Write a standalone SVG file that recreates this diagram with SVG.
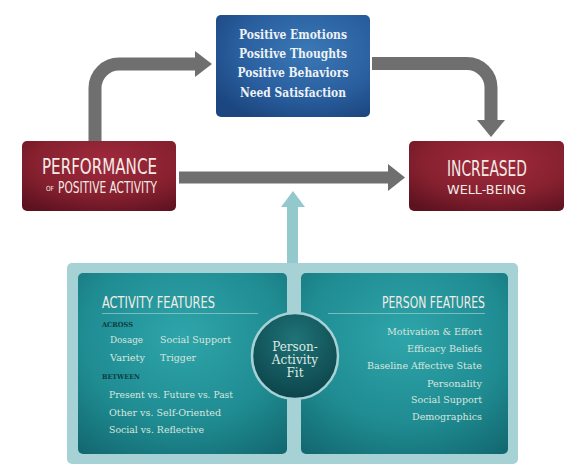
<svg xmlns="http://www.w3.org/2000/svg" width="588" height="476" viewBox="0 0 588 476">
<defs>
<radialGradient id="gBlue" cx="0.6" cy="0.35" r="0.75">
<stop offset="0" stop-color="#3a78b6"/><stop offset="0.6" stop-color="#2a5f9f"/><stop offset="1" stop-color="#1b467f"/>
</radialGradient>
<radialGradient id="gRed" cx="0.55" cy="0.3" r="0.8">
<stop offset="0" stop-color="#a02a3d"/><stop offset="0.6" stop-color="#86202f"/><stop offset="1" stop-color="#5e1220"/>
</radialGradient>
<radialGradient id="gTeal" cx="0.5" cy="0.35" r="0.8">
<stop offset="0" stop-color="#2ea5aa"/><stop offset="0.6" stop-color="#1f8c92"/><stop offset="1" stop-color="#136870"/>
</radialGradient>
<radialGradient id="gCircle" cx="0.5" cy="0.3" r="0.7">
<stop offset="0" stop-color="#1f7377"/><stop offset="1" stop-color="#0c454b"/>
</radialGradient>
<style>
.cond{font-family:"Liberation Sans Narrow","DejaVu Sans Condensed","Liberation Sans",sans-serif;fill:#f3ece6;}
.ser{font-family:"DejaVu Serif","Liberation Serif",serif;}
.blue{font-family:"DejaVu Serif","Liberation Serif",serif;font-weight:bold;font-size:12px;fill:#eef2f6;text-anchor:middle;}
.body{font-family:"DejaVu Serif","Liberation Serif",serif;font-size:9.5px;fill:#d9e6df;}
.lbl{font-family:"DejaVu Serif","Liberation Serif",serif;font-size:7px;font-weight:bold;fill:#0b3c40;}
.gray{fill:none;stroke:#6f6f6f;stroke-width:13;}
.grayh{fill:#6f6f6f;}
</style>
</defs>
<rect width="588" height="476" fill="#ffffff"/>

<g id="connectors">
<path class="gray" d="M95 141 V88 A24 24 0 0 1 119 64 H196"/>
<polygon class="grayh" points="195,51 212,64 195,77"/>
<path class="gray" d="M372 63.5 H467 A24 24 0 0 1 491 87.5 V121"/>
<polygon class="grayh" points="477,120 505,120 491,137"/>
<rect x="179" y="171.5" width="210" height="12" fill="#6f6f6f"/>
<polygon class="grayh" points="388,164 405,177.5 388,191"/>
<rect x="287" y="205" width="11" height="60" fill="#93c8cd"/>
<polygon points="281,207 305,207 293,191" fill="#93c8cd"/>
</g>

<g id="node-mediators">
<rect x="216" y="15" width="154" height="102" rx="5" fill="url(#gBlue)"/>
<text class="blue" x="293" y="39" textLength="108" lengthAdjust="spacingAndGlyphs">Positive Emotions</text>
<text class="blue" x="293" y="58" textLength="108" lengthAdjust="spacingAndGlyphs">Positive Thoughts</text>
<text class="blue" x="293" y="77" textLength="111" lengthAdjust="spacingAndGlyphs">Positive Behaviors</text>
<text class="blue" x="293" y="97" textLength="106" lengthAdjust="spacingAndGlyphs">Need Satisfaction</text>
</g>

<g id="node-performance">
<rect x="22" y="141" width="154" height="70" rx="5" fill="url(#gRed)"/>
<text class="cond" x="42" y="174" font-size="22" textLength="115" lengthAdjust="spacingAndGlyphs">PERFORMANCE</text>
<text class="cond" x="46" y="191" font-size="7" textLength="8" lengthAdjust="spacingAndGlyphs">OF</text>
<text class="cond" x="58" y="193" font-size="15" textLength="99" lengthAdjust="spacingAndGlyphs">POSITIVE ACTIVITY</text>
</g>

<g id="node-wellbeing">
<rect x="409" y="141" width="155" height="70" rx="5" fill="url(#gRed)"/>
<text class="cond" x="447" y="176" font-size="22" textLength="80" lengthAdjust="spacingAndGlyphs">INCREASED</text>
<text class="cond" x="447" y="194" font-size="13" textLength="79" lengthAdjust="spacingAndGlyphs">WELL-BEING</text>
</g>

<g id="node-features">
<rect x="67" y="263" width="451" height="201" rx="5" fill="#a6d2d5"/>
<g id="node-activity-features">
<rect x="78" y="273" width="209" height="181" rx="5" fill="url(#gTeal)"/>
<text class="cond" x="102" y="308" font-size="15" textLength="113" lengthAdjust="spacingAndGlyphs">ACTIVITY FEATURES</text>
<line x1="102" y1="313.5" x2="258" y2="313.5" stroke="#8fc6c8" stroke-width="1" opacity="0.8"/>
<text class="lbl" x="102" y="327" textLength="31" lengthAdjust="spacingAndGlyphs">ACROSS</text>
<text class="body" x="110" y="343" textLength="33" lengthAdjust="spacingAndGlyphs">Dosage</text>
<text class="body" x="160" y="343" textLength="71" lengthAdjust="spacingAndGlyphs">Social Support</text>
<text class="body" x="110" y="361" textLength="35" lengthAdjust="spacingAndGlyphs">Variety</text>
<text class="body" x="160" y="361" textLength="36" lengthAdjust="spacingAndGlyphs">Trigger</text>
<text class="lbl" x="102" y="379" textLength="38" lengthAdjust="spacingAndGlyphs">BETWEEN</text>
<text class="body" x="109" y="398" textLength="124" lengthAdjust="spacingAndGlyphs">Present vs. Future vs. Past</text>
<text class="body" x="109" y="416" textLength="112" lengthAdjust="spacingAndGlyphs">Other vs. Self-Oriented</text>
<text class="body" x="109" y="433" textLength="95" lengthAdjust="spacingAndGlyphs">Social vs. Reflective</text>
</g>
<g id="node-person-features">
<rect x="301" y="273" width="207" height="181" rx="5" fill="url(#gTeal)"/>
<text class="cond" x="485" y="308" font-size="15" text-anchor="end" textLength="103" lengthAdjust="spacingAndGlyphs">PERSON FEATURES</text>
<line x1="328" y1="313.5" x2="485" y2="313.5" stroke="#8fc6c8" stroke-width="1" opacity="0.8"/>
<text class="body" x="482" y="335" text-anchor="end" textLength="95" lengthAdjust="spacingAndGlyphs">Motivation &amp; Effort</text>
<text class="body" x="482" y="352" text-anchor="end" textLength="75" lengthAdjust="spacingAndGlyphs">Efficacy Beliefs</text>
<text class="body" x="482" y="369" text-anchor="end" textLength="115" lengthAdjust="spacingAndGlyphs">Baseline Affective State</text>
<text class="body" x="482" y="387" text-anchor="end" textLength="55" lengthAdjust="spacingAndGlyphs">Personality</text>
<text class="body" x="482" y="403" text-anchor="end" textLength="71" lengthAdjust="spacingAndGlyphs">Social Support</text>
<text class="body" x="482" y="420" text-anchor="end" textLength="70" lengthAdjust="spacingAndGlyphs">Demographics</text>
</g>
<g id="node-fit">
<circle cx="295" cy="356" r="43" fill="url(#gCircle)" stroke="#a6d2d5" stroke-width="2.5"/>
<text class="ser" x="295" y="351" font-size="12" fill="#dfeae4" text-anchor="middle">Person-</text>
<text class="ser" x="295" y="364" font-size="12" fill="#dfeae4" text-anchor="middle">Activity</text>
<text class="ser" x="295" y="377" font-size="12" fill="#dfeae4" text-anchor="middle">Fit</text>
</g>
</g>
</svg>
